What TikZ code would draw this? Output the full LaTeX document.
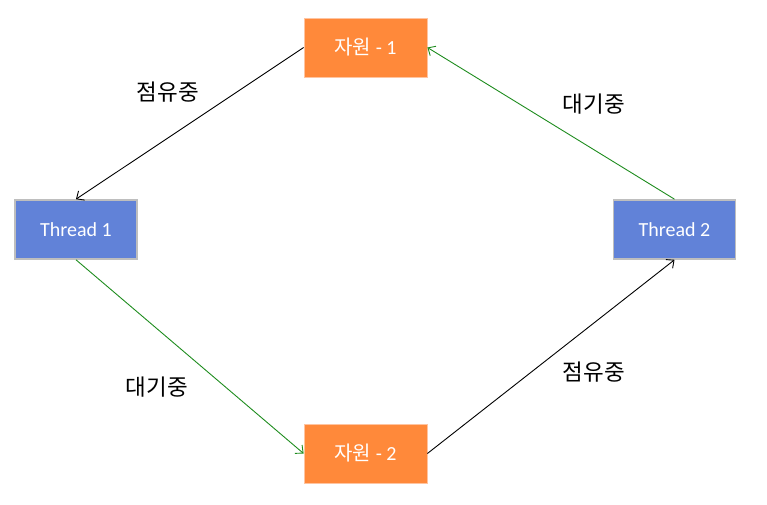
\documentclass[tikz,border=0pt]{standalone}
\usepackage{fontspec}
\setmainfont{Carlito}
\newfontfamily\kr{Noto Sans CJK KR}
\usetikzlibrary{arrows.meta}
\definecolor{orng}{RGB}{255,137,58}
\definecolor{orngline}{RGB}{255,196,160}
\definecolor{blu}{RGB}{97,130,216}
\definecolor{bluline}{RGB}{190,190,190}
\definecolor{grn}{RGB}{30,140,30}
\tikzset{
  resbox/.style={fill=orng, draw=orngline, line width=0.8pt, minimum width=123pt, minimum height=59pt, inner sep=0pt, text=white, font=\fontsize{20}{22}\selectfont},
  thrbox/.style={fill=blu, draw=bluline, line width=1.6pt, minimum width=122pt, minimum height=59pt, inner sep=0pt, text=white, font=\fontsize{20}{22}\selectfont},
  lbl/.style={font=\fontsize{22.5}{24}\selectfont\kr, text=black, inner sep=0pt},
  hold/.style={draw=black, line width=0.9pt, -{Straight Barb[length=6pt,width=11pt,line width=0.9pt]}},
  waitarr/.style={draw=grn, line width=0.9pt, -{Straight Barb[length=6pt,width=11pt,line width=0.9pt]}}
}
\begin{document}
\begin{tikzpicture}[x=1pt,y=-1pt]
\useasboundingbox (0,0) rectangle (767,505);
\node[resbox] (r1) at (365.5,47.5) {{\kr 자원} - 1};
\node[resbox] (r2) at (365.5,453.5) {{\kr 자원} - 2};
\node[thrbox] (t1) at (76,229.5) {Thread 1};
\node[thrbox] (t2) at (674.5,229.5) {Thread 2};
\draw[hold] (r1.west) -- (t1.north);
\draw[waitarr] (t1.south) -- (r2.west);
\draw[hold] (r2.east) -- (t2.south);
\draw[waitarr] (t2.north) -- (r1.east);
\node[lbl] (l1) at (168,92) {점유중};
\node[lbl] (l2) at (594,104) {대기중};
\node[lbl] (l3) at (157,387) {대기중};
\node[lbl] (l4) at (594,372) {점유중};
\end{tikzpicture}
\end{document}
